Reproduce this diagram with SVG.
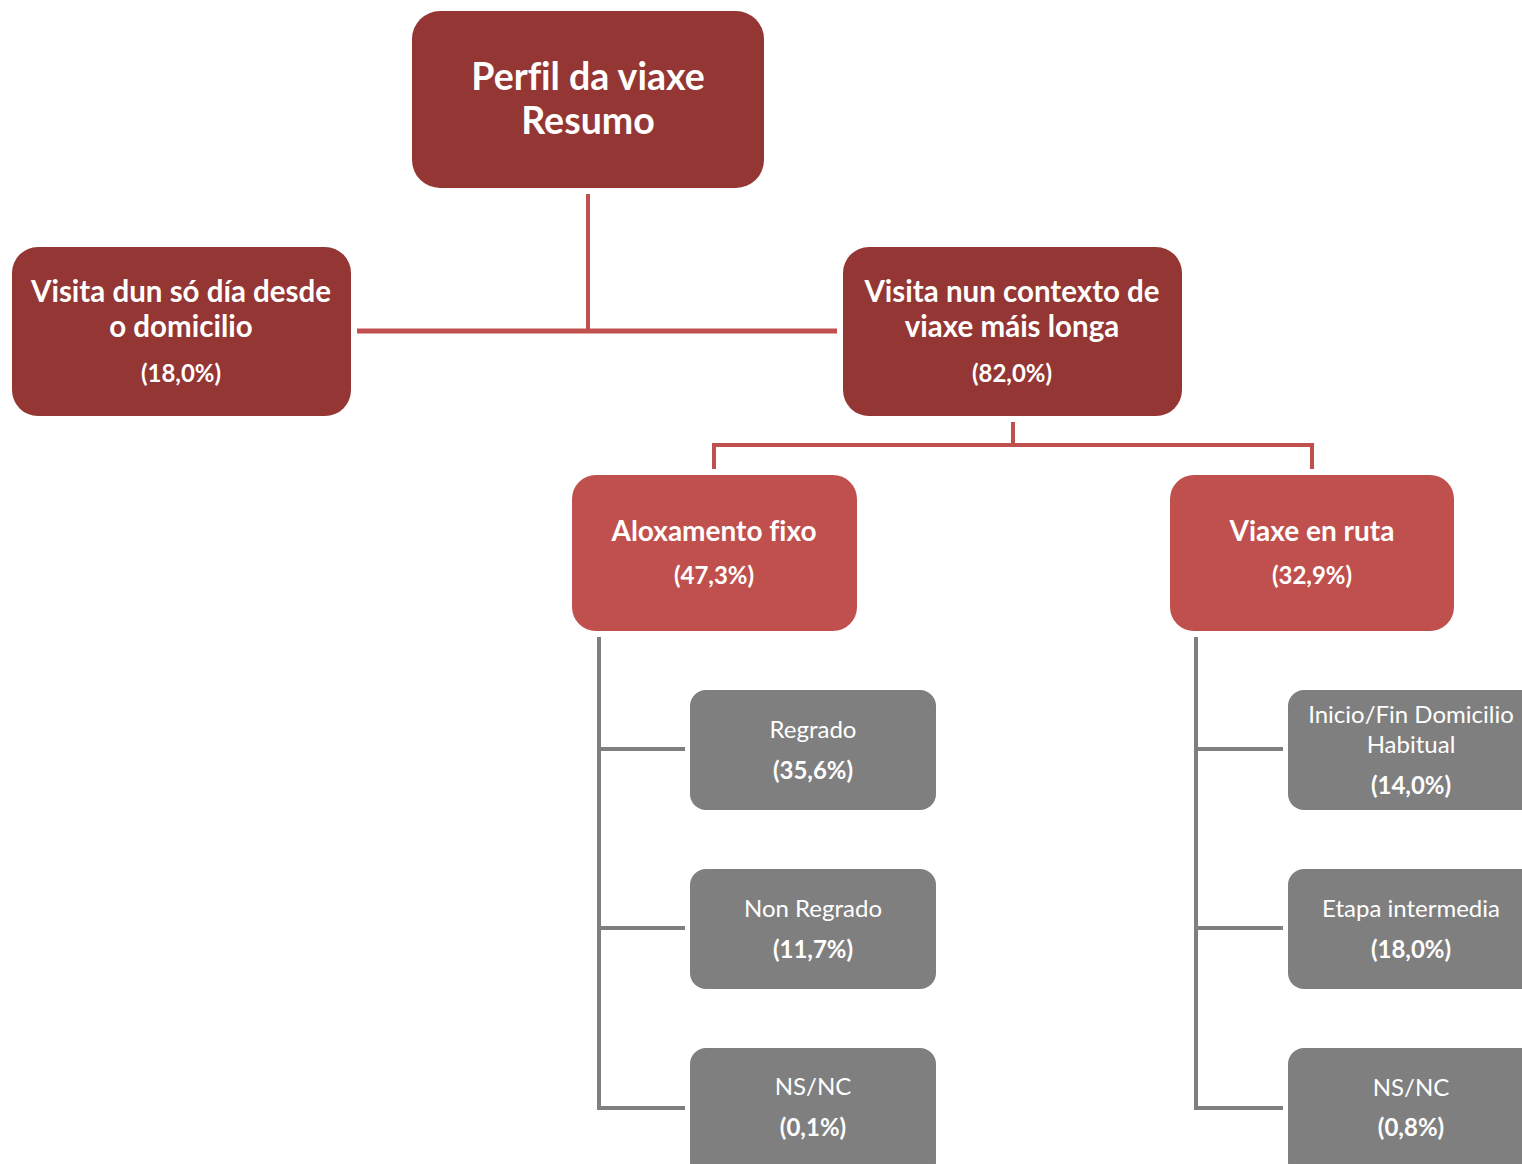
<svg xmlns="http://www.w3.org/2000/svg" width="1522" height="1164" viewBox="0 0 1522 1164">
<style>
.dark{fill:#943634}
.mid{fill:#c0504d}
.gray{fill:#7f7f7f}
.t{font-family:Lato,"Open Sans","Liberation Sans",sans-serif;fill:#fff;text-anchor:middle;font-variant-ligatures:none;font-feature-settings:"liga" 0}
.b{font-weight:bold}
.big{font-size:37.5px}
.h{font-size:29.5px}
.h2{font-size:28px}
.p{font-size:24px}
.g{font-size:24px}
.rc{stroke:#c0504d;fill:none}
.gc{stroke:#7f7f7f;fill:none;stroke-width:4}
</style>
<rect width="1522" height="1164" fill="#fff"/>
<g id="connectors">
<line class="rc" x1="588" y1="194" x2="588" y2="331" stroke-width="4"/>
<line class="rc" x1="357" y1="331" x2="837" y2="331" stroke-width="5"/>
<line class="rc" x1="1013" y1="422" x2="1013" y2="445" stroke-width="4"/>
<polyline class="rc" points="714,469 714,445 1312,445 1312,469" stroke-width="4"/>
<polyline class="gc" points="599,637 599,1108 685,1108"/>
<line class="gc" x1="599" y1="749" x2="685" y2="749"/>
<line class="gc" x1="599" y1="928" x2="685" y2="928"/>
<polyline class="gc" points="1196,637 1196,1108 1283,1108"/>
<line class="gc" x1="1196" y1="749" x2="1283" y2="749"/>
<line class="gc" x1="1196" y1="928" x2="1283" y2="928"/>
</g>
<g id="n-root">
<rect class="dark" x="412" y="11" width="352" height="177" rx="28"/>
<text class="t b big" x="588" y="90">Perfil da viaxe</text>
<text class="t b big" x="588" y="134">Resumo</text>
</g>
<g id="n-day">
<rect class="dark" x="12" y="247" width="339" height="169" rx="26"/>
<text class="t b h" x="181" y="302">Visita dun só día desde</text>
<text class="t b h" x="181" y="337">o domicilio</text>
<text class="t b p" x="181" y="382">(18,0%)</text>
</g>
<g id="n-long">
<rect class="dark" x="843" y="247" width="339" height="169" rx="26"/>
<text class="t b h" x="1012" y="302">Visita nun contexto de</text>
<text class="t b h" x="1012" y="337">viaxe máis longa</text>
<text class="t b p" x="1012" y="382">(82,0%)</text>
</g>
<g id="n-fixo">
<rect class="mid" x="572" y="475" width="285" height="156" rx="24"/>
<text class="t b h2" x="714" y="541">Aloxamento fixo</text>
<text class="t b p" x="714" y="584">(47,3%)</text>
</g>
<g id="n-ruta">
<rect class="mid" x="1170" y="475" width="284" height="156" rx="24"/>
<text class="t b h2" x="1312" y="541">Viaxe en ruta</text>
<text class="t b p" x="1312" y="584">(32,9%)</text>
</g>
<g id="n-regrado">
<rect class="gray" x="690" y="690" width="246" height="120" rx="16"/>
<text class="t g" x="813" y="738">Regrado</text>
<text class="t b g" x="813" y="779">(35,6%)</text>
</g>
<g id="n-nonregrado">
<rect class="gray" x="690" y="869" width="246" height="120" rx="16"/>
<text class="t g" x="813" y="917">Non Regrado</text>
<text class="t b g" x="813" y="958">(11,7%)</text>
</g>
<g id="n-nsnc1">
<rect class="gray" x="690" y="1048" width="246" height="130" rx="16"/>
<text class="t g" x="813" y="1095">NS/NC</text>
<text class="t b g" x="813" y="1136">(0,1%)</text>
</g>
<g id="n-inicio">
<rect class="gray" x="1288" y="690" width="250" height="120" rx="16"/>
<text class="t g" x="1411" y="723">Inicio/Fin Domicilio</text>
<text class="t g" x="1411" y="753">Habitual</text>
<text class="t b g" x="1411" y="794">(14,0%)</text>
</g>
<g id="n-etapa">
<rect class="gray" x="1288" y="869" width="250" height="120" rx="16"/>
<text class="t g" x="1411" y="917">Etapa intermedia</text>
<text class="t b g" x="1411" y="958">(18,0%)</text>
</g>
<g id="n-nsnc2">
<rect class="gray" x="1288" y="1048" width="250" height="130" rx="16"/>
<text class="t g" x="1411" y="1096">NS/NC</text>
<text class="t b g" x="1411" y="1136">(0,8%)</text>
</g>
</svg>
